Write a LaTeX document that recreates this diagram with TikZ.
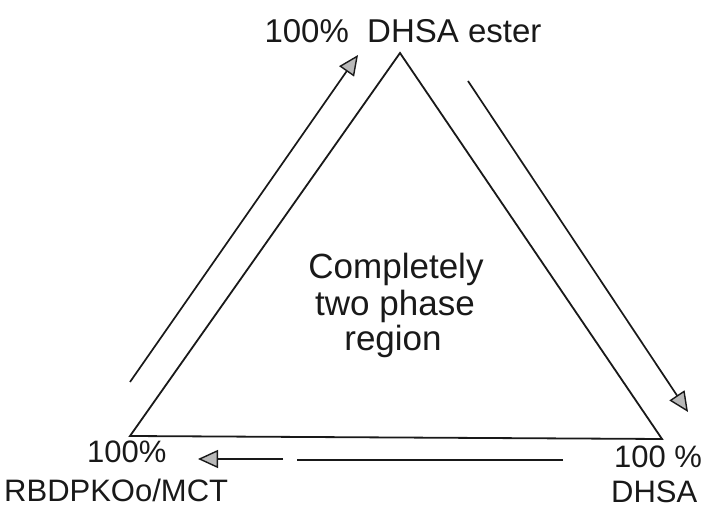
\documentclass[tikz,border=0pt]{standalone}
\usepackage{fontspec}
\setmainfont{Liberation Sans}
\usetikzlibrary{arrows.meta}
\begin{document}
\begin{tikzpicture}[x=1pt,y=-1pt,
  edge/.style={line width=1.8pt,draw=black!90,line join=miter},
  flow/.style={line width=1.7pt,draw=black!90,
    -{Triangle[length=20pt,width=18pt,fill=gray!55,line width=1.4pt]}},
  plain/.style={line width=1.7pt,draw=black!90},
  corner/.style={inner sep=0pt,font=\fontsize{31}{36}\selectfont,text=black!90},
  topl/.style={inner sep=0pt,font=\fontsize{33}{38}\selectfont,text=black!90},
  mid/.style={inner sep=0pt,font=\fontsize{35}{40}\selectfont,text=black!90}]
\useasboundingbox (0,0) rectangle (705,510);
\fill[white] (0,0) rectangle (705,510);
% triangle vertices
\coordinate (A) at (400,53);
\coordinate (L) at (130,436);
\coordinate (R) at (662,439);
\draw[edge] (A) -- (L) -- (R) -- cycle;
% arrow end points
\coordinate (l1) at (130,382);
\coordinate (l2) at (358,55);
\coordinate (r1) at (468,81);
\coordinate (r2) at (688,412);
\coordinate (b1) at (563,460);
\coordinate (b2) at (297,460);
\coordinate (b3) at (283,459);
\coordinate (b4) at (198,459);
\draw[flow] (l1) -- (l2);
\draw[flow] (r1) -- (r2);
\draw[plain] (b1) -- (b2);
\draw[flow] (b3) -- (b4);
% labels
\node[topl,anchor=base] (ttop) at (403,43) {100\%\ \ DHSA ester};
\node[corner,anchor=base west] (tl1) at (87,463) {100\%};
\node[corner,anchor=base west] (tl2) at (4,502) {RBDPKOo/MCT};
\node[corner,anchor=base west] (tr1) at (614,468) {100 \%};
\node[corner,anchor=base west] (tr2) at (611,503) {DHSA};
\node[mid,anchor=base] (c1) at (396,279) {Completely};
\node[mid,anchor=base] (c2) at (395,316) {two phase};
\node[mid,anchor=base] (c3) at (393,351) {region};
\end{tikzpicture}
\end{document}
